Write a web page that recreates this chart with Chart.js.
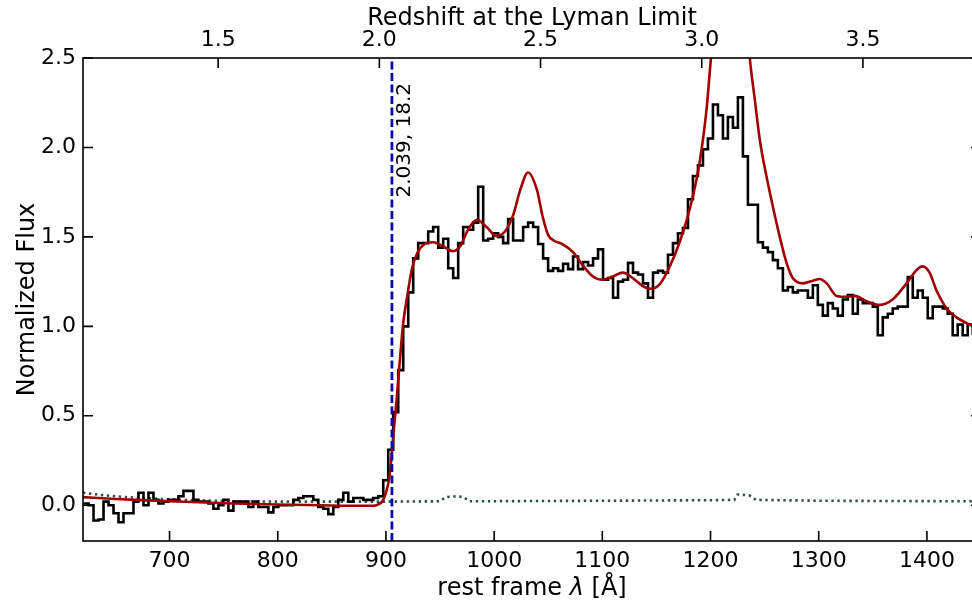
<!DOCTYPE html>
<html>
<head>
<meta charset="utf-8">
<script src="https://cdn.jsdelivr.net/npm/chart.js@4/dist/chart.umd.min.js"></script>
<style>
html,body{margin:0;padding:0;background:#fff;overflow:hidden;}
canvas{display:block;}
</style>
</head>
<body>
<canvas id="c" width="990" height="601"></canvas>
<script>
// ---- data ----
const lamMin = 620, lamMax = 1450;
const zQSO = 2.0607;              // redshift used for the top axis
const binStart = 620.5, binWidth = 4.617;
const flux = [
 0.01,0.0,-0.085,-0.08,0.02,0.0,-0.045,-0.095,-0.045,-0.045,
 0.02,0.07,0.0,0.07,0.03,0.01,0.02,0.03,0.03,0.05,
 0.08,0.08,0.03,0.02,0.02,0.01,-0.02,0.0,0.03,-0.03,
 0.02,0.02,0.02,-0.01,0.02,-0.01,-0.01,-0.04,-0.01,0.0,
 0.0,0.0,0.03,0.04,0.05,0.05,0.03,-0.01,-0.02,-0.05,
 -0.01,0.03,0.07,0.02,0.04,0.04,0.03,0.03,0.04,0.05,
 0.14,0.31,0.52,0.755,1.0,1.19,1.38,1.465,1.465,1.53,
 1.555,1.44,1.49,1.325,1.27,1.465,1.555,1.54,1.58,1.78,
 1.48,1.49,1.52,1.5,1.465,1.6,1.48,1.48,1.555,1.58,
 1.555,1.46,1.38,1.31,1.325,1.31,1.35,1.32,1.39,1.32,
 1.36,1.34,1.38,1.43,1.26,1.27,1.16,1.25,1.26,1.355,
 1.30,1.29,1.24,1.16,1.30,1.31,1.30,1.40,1.465,1.52,
 1.55,1.71,1.84,1.90,1.99,2.05,2.24,2.18,2.05,2.17,
 2.11,2.28,1.95,1.68,1.68,1.47,1.44,1.415,1.37,1.325,
 1.20,1.22,1.19,1.20,1.20,1.16,1.23,1.12,1.06,1.13,
 1.10,1.06,1.15,1.175,1.07,1.15,1.13,1.13,1.11,0.95,
 1.05,1.07,1.10,1.11,1.11,1.275,1.16,1.20,1.16,1.045,
 1.11,1.11,1.10,1.07,0.95,1.01,0.95,1.01,0.96,0.96
];
const modelLam = [620,650,680,720,760,800,840,870,888,893,897,900,903,905,907,910,913,916,919.7,924,929,934.5,943.7,952,962,969,975,984,993,1002,1010,1017.5,1024,1031.4,1039.7,1045,1050,1055,1063,1073,1082,1091,1100,1110,1119,1128,1137.5,1144,1153,1162,1172,1181,1187.4,1192,1196.6,1199.4,1204,1210.5,1219,1227,1232.6,1236.3,1240.9,1245.6,1252,1257.6,1264,1270.5,1276,1285.3,1294.5,1301,1307.4,1316.6,1325.9,1333.2,1344.3,1356.3,1368.3,1381.2,1390.5,1396,1402.5,1408.9,1418.2,1427.4,1439.4,1450];
const modelFlux = [0.045,0.035,0.027,0.018,0.01,0.004,0.0,-0.003,-0.003,0.005,0.025,0.07,0.15,0.26,0.40,0.6,0.82,1.02,1.17,1.32,1.41,1.455,1.47,1.45,1.42,1.45,1.53,1.595,1.555,1.505,1.53,1.62,1.76,1.86,1.76,1.61,1.51,1.48,1.46,1.415,1.34,1.28,1.26,1.28,1.30,1.27,1.225,1.21,1.235,1.33,1.48,1.66,1.83,2.0,2.23,2.43,2.75,3.2,3.5,3.3,2.8,2.5,2.27,2.04,1.83,1.67,1.50,1.35,1.27,1.24,1.255,1.265,1.24,1.17,1.165,1.17,1.14,1.12,1.15,1.24,1.315,1.335,1.30,1.20,1.10,1.05,1.01,0.98];
const errLam  = [620,640,660,690,720,760,800,900,950,955,965,972,977,1100,1200,1222,1225,1236,1242,1300,1440,1450];
const errFlux = [0.07,0.055,0.045,0.035,0.028,0.022,0.02,0.02,0.022,0.045,0.05,0.045,0.022,0.025,0.028,0.03,0.06,0.055,0.03,0.025,0.022,0.02];
const lymanZ = 2.039;
const lymanLabel = '2.039, 18.2';
const lamTicks = [700,800,900,1000,1100,1200,1300,1400];
const zTicks = [1.5,2.0,2.5,3.0,3.5];
const fluxTicks = [0.0,0.5,1.0,1.5,2.0,2.5];
const yMin = -0.2, yMax = 2.5;
const xTitleParts = [['rest frame ', 'normal'], ['λ', 'italic'], [' [Å]', 'normal']];

// ---- derived ----
const zOf = l => l*(1+zQSO)/912 - 1;
const lymanLam = (1+lymanZ)*912/(1+zQSO);
const histPts = flux.map((v,i)=>({x: binStart + i*binWidth, y: v}));
histPts.push({x: binStart + flux.length*binWidth, y: flux[flux.length-1]});
const modelPts = modelLam.map((l,i)=>({x:l, y:modelFlux[i]}));
const errPts = errLam.map((l,i)=>({x:l, y:errFlux[i]}));

const FONT = 'DejaVu Sans';
const TICK = 22, TITLE = 24;

const frame = {
  id:'frame',
  afterDraw(chart){
    const {ctx, chartArea:a, scales} = chart;
    ctx.save();
    ctx.strokeStyle = '#000';
    ctx.lineWidth = 1.6;
    ctx.strokeRect(a.left, a.top, a.right-a.left, a.bottom-a.top);
    const L = 10;
    ctx.beginPath();
    lamTicks.forEach(v=>{const x=scales.x.getPixelForValue(v); ctx.moveTo(x,a.bottom); ctx.lineTo(x,a.bottom-L);});
    zTicks.forEach(v=>{const x=scales.x2.getPixelForValue(v); ctx.moveTo(x,a.top); ctx.lineTo(x,a.top+L);});
    fluxTicks.forEach(v=>{const y=scales.y.getPixelForValue(v); ctx.moveTo(a.left,y); ctx.lineTo(a.left+L,y); ctx.moveTo(a.right,y); ctx.lineTo(a.right-L,y);});
    ctx.stroke();
    ctx.fillStyle = '#000';
    // bottom axis title with italic lambda
    ctx.textBaseline = 'alphabetic';
    ctx.textAlign = 'left';
    const fontOf = st => (st==='italic'?'italic ':'') + TITLE + 'px "DejaVu Sans"';
    let total = 0;
    xTitleParts.forEach(([t,st])=>{ctx.font = fontOf(st); total += ctx.measureText(t).width;});
    let xx = (a.left + a.right)/2 - total/2;
    const yy = chart.height - 6;
    xTitleParts.forEach(([t,st])=>{ctx.font = fontOf(st); ctx.fillText(t, xx, yy); xx += ctx.measureText(t).width;});
    // label for the dashed line
    const xl = scales.x.getPixelForValue(lymanLam);
    ctx.translate(xl+18, scales.y.getPixelForValue(1.72));
    ctx.rotate(-Math.PI/2);
    ctx.font = '20px "DejaVu Sans"';
    ctx.fillText(lymanLabel, 0, 0);
    ctx.restore();
  }
};

new Chart(document.getElementById('c'), {
  type:'line',
  data:{datasets:[
    {data:[{x:lymanLam,y:yMin},{x:lymanLam,y:yMax}], borderColor:'#0b0ba8', borderWidth:2.8, borderDash:[8,3.5], pointRadius:0, order:0},
    {data:modelPts, borderColor:'#a00000', borderWidth:2.6, pointRadius:0, cubicInterpolationMode:'monotone', order:1},
    {data:histPts, borderColor:'#000', borderWidth:2.6, pointRadius:0, stepped:'before', order:2},
    {data:errPts, borderColor:'#2f4f4f', borderWidth:2.6, borderDash:[2.4,3.6], pointRadius:0, order:3}
  ]},
  options:{
    responsive:false, animation:false,
    layout:{padding:{left:0,right:9,top:0,bottom:0}},
    plugins:{legend:{display:false}, tooltip:{enabled:false}},
    scales:{
      x:{type:'linear', position:'bottom', min:lamMin, max:lamMax,
         grid:{display:false, drawTicks:false}, border:{display:false},
         afterBuildTicks:s=>{s.ticks = lamTicks.map(v=>({value:v}));},
         afterFit:s=>{s.height=60;},
         ticks:{font:{family:FONT,size:TICK}, color:'#000', padding:7, maxRotation:0, callback:v=>String(v)},
         title:{display:false}},
      x2:{type:'linear', position:'top', min:zOf(lamMin), max:zOf(lamMax),
         grid:{display:false, drawTicks:false}, border:{display:false},
         afterBuildTicks:s=>{s.ticks = zTicks.map(v=>({value:v}));},
         afterFit:s=>{s.height=58;},
         ticks:{font:{family:FONT,size:TICK}, color:'#000', padding:5, maxRotation:0, callback:v=>v.toFixed(1)},
         title:{display:true, text:'Redshift at the Lyman Limit', font:{family:FONT,size:TITLE}, color:'#000', padding:{top:4,bottom:0}}},
      y:{type:'linear', position:'left', min:yMin, max:yMax,
         grid:{display:false, drawTicks:false}, border:{display:false},
         afterBuildTicks:s=>{s.ticks = fluxTicks.map(v=>({value:v}));},
         afterFit:s=>{s.width=83;},
         ticks:{font:{family:FONT,size:TICK}, color:'#000', padding:7, callback:v=>v.toFixed(1)},
         title:{display:true, text:'Normalized Flux', font:{family:FONT,size:TITLE}, color:'#000', padding:{top:13,bottom:0}}}
    }
  },
  plugins:[frame]
});
</script>
</body>
</html>
